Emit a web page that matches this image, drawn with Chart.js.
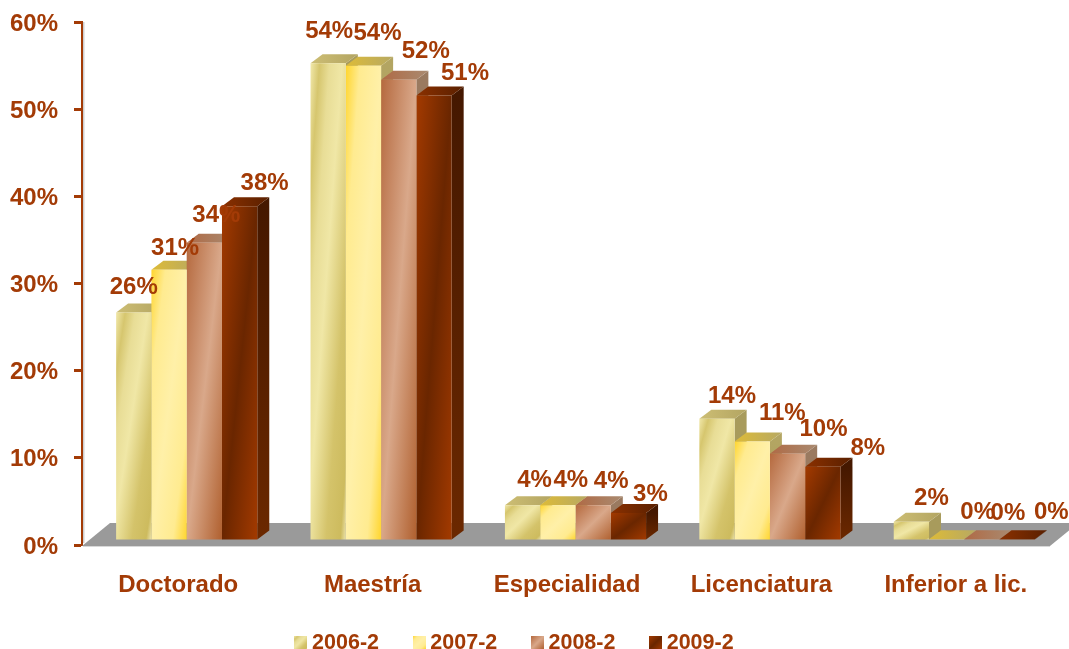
<!DOCTYPE html>
<html lang="es">
<head>
    <meta charset="UTF-8">
    <title>Grado por periodo</title>
    <script src="https://cdn.jsdelivr.net/npm/chart.js"></script>
    <style>
        html, body { margin: 0; padding: 0; background: #fff; overflow: hidden; }
        canvas { display: block; }
    </style>
</head>
<body>
    <canvas id="gradeChart" width="1069" height="649"></canvas>

    <script>
        const categories = ['Doctorado', 'Maestría', 'Especialidad', 'Licenciatura', 'Inferior a lic.'];
        const years = ['2006-2', '2007-2', '2008-2', '2009-2'];

        // bar heights
        const values2006 = [26.1, 54.7, 4.0, 13.9, 2.1];
        const values2007 = [31.0, 54.4, 4.0, 11.3, 0.1];
        const values2008 = [34.1, 52.8, 4.0, 9.9, 0.1];
        const values2009 = [38.3, 51.0, 3.1, 8.4, 0.1];

        // numbers printed above the bars
        const printed2006 = [26, 54, 4, 14, 2];
        const printed2007 = [31, 54, 4, 11, 0];
        const printed2008 = [34, 52, 4, 10, 0];
        const printed2009 = [38, 51, 3, 8, 0];

        const yTicks = [0, 10, 20, 30, 40, 50, 60];

        const seriesValues = [values2006, values2007, values2008, values2009];
        const seriesPrinted = [printed2006, printed2007, printed2008, printed2009];

        // label offset from the top centre of each bar, per series
        const labelNudge = [
            [[0, -25], [1, -32], [12, -25], [15, -22], [20, -23]],
            [[6, -21], [14, -32], [13, -25], [30, -28], [31, -27]],
            [[12, -27], [27, -28], [18, -24], [36, -24], [26, -26]],
            [[25, -23], [31, -22], [22, -19], [45, -18], [34, -27]]
        ];

        const textColor = '#A33B06';
        const fontFamily = '"Liberation Sans", Arial, sans-serif';

        // the 3D look: fronts sit a little inside the floor, depth goes up and right
        const shiftX = 7.5, shiftY = -5;
        const depthX = 12, depthY = 9;
        const groupShare = 0.726;

        const frontStops = [
            [[0, '#F1E8AA'], [0.13, '#D6C66E'], [0.27, '#E8DD96'], [0.45, '#F0E7A6'], [0.72, '#D4C36A'], [0.92, '#CDBB5E'], [1, '#EBE2AC']],
            [[0, '#FFD52E'], [0.2, '#FFEB90'], [0.5, '#FFF0A8'], [0.8, '#FFEB90'], [1, '#FFD52E']],
            [[0, '#B5693E'], [0.5, '#D9A88A'], [1, '#B0602F']],
            [[0, '#A33A00'], [0.5, '#6A2600'], [1, '#A33A00']]
        ];
        const topFace = [['#CDBE74', '#B3A562'], ['#DDBB38', '#B7A963'], ['#B06A45', '#A98A70'], ['#8A3000', '#5A2000']];
        const sideFace = [['#A89B5C', '#A89B5C'], ['#B3A562', '#A89B5C'], ['#9A7A60', '#9A7A60'], ['#451800', '#6B2800']];

        // gradient whose bands run along the anti-diagonal of the box
        function boxGradient(ctx, x, y, w, h, stops) {
            const len = Math.hypot(w, h) || 1;
            const reach = 2 * w * h / len;
            const g = ctx.createLinearGradient(x, y, x + h / len * reach, y + w / len * reach);
            stops.forEach(s => g.addColorStop(s[0], s[1]));
            return g;
        }

        function barFill(context) {
            if (context.dataIndex === undefined) return '#999';
            const { x: xScale, y: yScale } = context.chart.scales;
            const w = xScale.width / categories.length * groupShare / years.length;
            const i = context.datasetIndex;
            const left = xScale.getPixelForValue(context.dataIndex) + (i - 2) * w;
            const top = yScale.getPixelForValue(seriesValues[i][context.dataIndex]);
            const h = Math.max(yScale.getPixelForValue(0) - top, 1);
            return boxGradient(context.chart.ctx, left, top, w, h, frontStops[i]);
        }

        function legendSwatch(stops) {
            const c = document.createElement('canvas');
            c.width = 13;
            c.height = 13;
            const cx = c.getContext('2d');
            cx.fillStyle = boxGradient(cx, 0, 0, 13, 13, stops);
            cx.fillRect(0, 0, 13, 13);
            return c;
        }

        const floorPlugin = {
            id: 'floor',
            beforeDatasetsDraw(chart) {
                const { ctx, chartArea } = chart;
                const l = chartArea.left, b = chartArea.bottom;
                ctx.save();
                ctx.fillStyle = '#9A9A9A';
                ctx.beginPath();
                ctx.moveTo(l, b + 1);
                ctx.lineTo(l + 28, b - 22);
                ctx.lineTo(l + 996, b - 22);
                ctx.lineTo(l + 968, b + 1);
                ctx.closePath();
                ctx.fill();
                ctx.fillStyle = '#D8D8D8';
                ctx.fillRect(l + 1, b + 1, 967, 1);
                // faint shadow along the axis line
                ctx.fillStyle = '#CFCFCF';
                ctx.fillRect(l + 1, chartArea.top, 1.5, b - chartArea.top - 2);
                ctx.restore();
            }
        };

        // side and top faces go under the fronts, then the library paints the fronts moved by the same shift
        const depthPlugin = {
            id: 'depth',
            beforeDatasetsDraw(chart) {
                const ctx = chart.ctx;
                ctx.save();
                ctx.translate(shiftX, shiftY);
                categories.forEach((c, index) => {
                    years.forEach((y, ds) => {
                        const bar = chart.getDatasetMeta(ds).data[index];
                        const left = bar.x - bar.width / 2, right = bar.x + bar.width / 2;

                        const side = ctx.createLinearGradient(0, bar.y, 0, bar.base);
                        side.addColorStop(0, sideFace[ds][0]);
                        side.addColorStop(1, sideFace[ds][1]);
                        ctx.fillStyle = side;
                        ctx.beginPath();
                        ctx.moveTo(right, bar.y);
                        ctx.lineTo(right + depthX, bar.y - depthY);
                        ctx.lineTo(right + depthX, bar.base - depthY);
                        ctx.lineTo(right, bar.base);
                        ctx.closePath();
                        ctx.fill();

                        const top = ctx.createLinearGradient(left, 0, right + depthX, 0);
                        top.addColorStop(0, topFace[ds][0]);
                        top.addColorStop(1, topFace[ds][1]);
                        ctx.fillStyle = top;
                        ctx.beginPath();
                        ctx.moveTo(left, bar.y);
                        ctx.lineTo(left + depthX, bar.y - depthY);
                        ctx.lineTo(right + depthX, bar.y - depthY);
                        ctx.lineTo(right, bar.y);
                        ctx.closePath();
                        ctx.fill();
                    });
                });
                // this save stays open until afterDatasetsDraw
            },
            afterDatasetsDraw(chart) {
                const ctx = chart.ctx;
                ctx.restore();

                ctx.save();
                ctx.fillStyle = textColor;
                ctx.font = 'bold 24px ' + fontFamily;
                ctx.textAlign = 'center';
                ctx.textBaseline = 'middle';
                years.forEach((y, ds) => {
                    chart.getDatasetMeta(ds).data.forEach((bar, index) => {
                        const nudge = labelNudge[ds][index];
                        ctx.fillText(seriesPrinted[ds][index] + '%',
                            bar.x + shiftX + nudge[0], bar.y + shiftY + nudge[1]);
                    });
                });
                ctx.restore();
            }
        };

        // the legend keeps a short box so the category labels have room, and sits where the picture has it
        const legendPlugin = {
            id: 'legendPlace',
            beforeLayout(chart) {
                const legend = chart.legend;
                if (legend.shortFit) return;
                const fit = legend.fit;
                legend.fit = function () {
                    fit.call(this);
                    this.height = 42;
                };
                legend.shortFit = true;
            },
            beforeDraw(chart) {
                const legend = chart.legend;
                if (legend.placed) return;
                legend.left -= 10;
                legend.right -= 10;
                legend.top = 592.5;
                legend.placed = true;
            }
        };

        new Chart(document.getElementById('gradeChart'), {
            type: 'bar',
            plugins: [floorPlugin, depthPlugin, legendPlugin],
            data: {
                labels: categories,
                datasets: years.map((year, i) => ({
                    label: year,
                    data: seriesValues[i],
                    backgroundColor: barFill,
                    borderWidth: 0,
                    categoryPercentage: groupShare,
                    barPercentage: 1,
                    clip: false
                }))
            },
            options: {
                responsive: false,
                animation: false,
                layout: { padding: { top: 22, right: 15, left: 0, bottom: 0 } },
                scales: {
                    x: {
                        grid: { display: false },
                        border: { display: false },
                        ticks: { color: textColor, font: { family: fontFamily, size: 24, weight: 'bold' }, padding: 18, labelOffset: -1, maxRotation: 0, autoSkip: false },
                        afterFit(scale) { scale.height = 62; }
                    },
                    y: {
                        min: 0,
                        max: 60,
                        afterBuildTicks(scale) { scale.ticks = yTicks.map(v => ({ value: v })); },
                        grid: { drawOnChartArea: false, drawTicks: true, tickLength: 8, tickWidth: 3, tickColor: textColor },
                        border: { color: textColor, width: 2 },
                        ticks: { color: textColor, font: { family: fontFamily, size: 24, weight: 'bold' }, padding: 16, labelOffset: 2, callback: v => v + '%' },
                        afterFit(scale) {
                            scale.width = 82;
                            scale.paddingTop = 0;
                            scale.paddingBottom = 0;
                        }
                    }
                },
                plugins: {
                    tooltip: { enabled: false },
                    legend: {
                        position: 'bottom',
                        labels: {
                            color: textColor,
                            font: { family: fontFamily, size: 21.5, weight: 'bold' },
                            usePointStyle: true,
                            pointStyleWidth: 1,
                            padding: 39.5,
                            generateLabels: () => years.map((year, i) => ({
                                text: year,
                                datasetIndex: i,
                                fontColor: textColor,
                                pointStyle: legendSwatch(frontStops[i])
                            }))
                        }
                    }
                }
            }
        });
    </script>
</body>
</html>
